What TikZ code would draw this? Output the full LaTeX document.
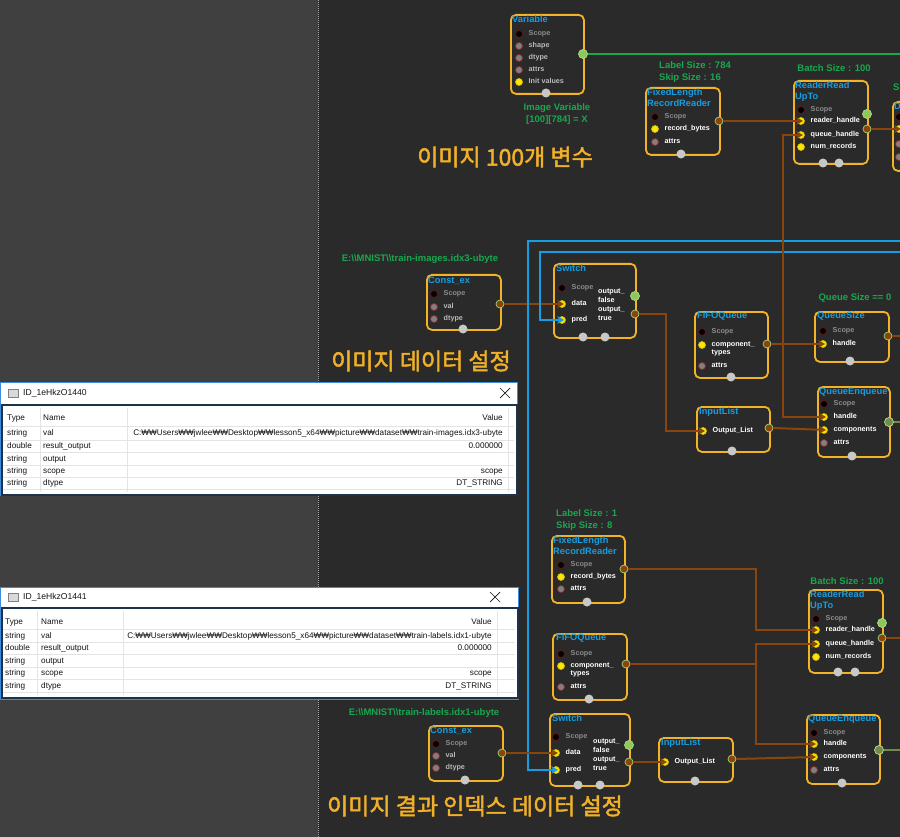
\documentclass[tikz,border=0pt]{standalone}
\usepackage{fontspec}
\setmainfont{Liberation Sans}
\newfontfamily\korfont{Noto Sans CJK KR}[AutoFakeBold=2]
\usetikzlibrary{arrows.meta}
\definecolor{panel}{RGB}{64,64,64}
\definecolor{canvas}{RGB}{42,42,42}
\definecolor{orng}{RGB}{242,180,38}
\definecolor{cyn}{RGB}{22,158,226}
\definecolor{grn}{RGB}{24,168,78}
\definecolor{brn}{RGB}{138,70,10}
\definecolor{olv}{RGB}{112,140,72}
\definecolor{ltgrn}{RGB}{140,200,90}
\definecolor{yel}{RGB}{255,230,0}
\definecolor{pgry}{RGB}{128,128,128}
\definecolor{dred}{RGB}{110,20,20}
\definecolor{mred}{RGB}{150,40,40}
\definecolor{botg}{RGB}{200,200,200}
\definecolor{scopet}{RGB}{140,140,140}
\definecolor{lgt}{RGB}{185,185,185}
\definecolor{kcol}{RGB}{240,176,40}
\definecolor{winb}{RGB}{60,140,220}
\definecolor{wind}{RGB}{30,50,75}
\definecolor{gridl}{RGB}{228,228,228}
\definecolor{wtx}{RGB}{20,20,20}
\tikzset{
  nodebox/.style={draw=orng, line width=1.8pt, rounded corners=5pt, fill=canvas, inner sep=0pt},
  ttl/.style={text=cyn, font=\bfseries\fontsize{9.3}{10}\selectfont, anchor=west, inner sep=0pt, text height=7pt, text depth=2pt},
  pl/.style={text=white, font=\bfseries\fontsize{7.2}{8}\selectfont, anchor=west, inner sep=0pt, text height=5.2pt, text depth=1.6pt},
  pls/.style={pl, text=scopet},
  plg/.style={pl, text=lgt},
  pdot/.style={circle, inner sep=0pt, minimum size=7pt, line width=0.7pt},
  dscope/.style={pdot, fill=black, draw=dred},
  dgray/.style={pdot, fill=pgry, draw=mred},
  dyel/.style={pdot, fill=yel, draw=yel!80!black},
  dout/.style={pdot, minimum size=8pt, fill=brn, draw=ltgrn!80!white},
  dgrn/.style={pdot, minimum size=9pt, fill=ltgrn, draw=ltgrn!70!white},
  dolv/.style={pdot, minimum size=9pt, fill=olv, draw=ltgrn!60!white},
  botc/.style={circle, inner sep=0pt, minimum size=9pt, fill=botg},
  glab/.style={text=grn, font=\bfseries\fontsize{9.5}{12}\selectfont, inner sep=0pt},
  conn/.style={draw=brn, line width=2pt},
  arr/.style={conn, -{Stealth[length=7pt,width=8pt,inset=2.5pt]}},
  blu/.style={draw=cyn, line width=2pt},
  barr/.style={blu, -{Stealth[length=7pt,width=8pt,inset=2.5pt]}},
  kt/.style={text=kcol, font=\korfont\bfseries\fontsize{23}{26}\selectfont, inner sep=0pt},
  wtxt/.style={text=wtx, font=\fontsize{8.2}{9}\selectfont, inner sep=0pt, text height=6pt, text depth=1.8pt},
  wl/.style={wtxt, anchor=west},
  wr/.style={wtxt, anchor=east},
}
\newcommand\nbox[5]{\node[nodebox, anchor=north west, minimum width={#4-#2}, minimum height={#5-#3}] (#1) at (#2,#3) {};}
\newcommand\prt[6]{\node[#1] (#3) at (#4,#5) {}; \node[#2] (#3l) at (#4+9.5,#5) {#6};}
\begin{document}
\begin{tikzpicture}[x=1pt,y=-1pt]
\useasboundingbox (0,0) rectangle (900,837);
\clip (0,0) rectangle (900,837);
% backgrounds
\fill[panel] (0,0) rectangle (318,837);
\fill[canvas] (318,0) rectangle (900,837);
\draw[gray!70, line width=0.8pt, dash pattern=on 1pt off 1pt] (318.5,0) -- (318.5,837);

% ---------------- windows
\node[draw=winb, fill=white, line width=1pt, minimum width=517pt, minimum height=113pt, anchor=north west, inner sep=0pt] (w1) at (0,382) {};
\node[draw=gray, fill=gray!30, minimum width=10pt, minimum height=8pt, inner sep=0pt] (w1i) at (13,393) {};
\node[wl, font=\fontsize{8.6}{9}\selectfont] (w1t) at (23,393) {ID\_1eHkzO1440};
\draw[wtx, line width=0.7pt] (500,388) -- (510,398) (500,398) -- (510,388);
\node[draw=wind, line width=2pt, fill=white, anchor=north west, minimum width=515pt, minimum height=90pt, inner sep=0pt] (w1c) at (1,404) {};
\foreach \xx in {40,127,508} \draw[gridl] (\xx,408) -- (\xx,492);
\foreach \yy in {426,440,452,465,477,489} \draw[gridl] (3,\yy) -- (514,\yy);
\node[wl] (w1h1) at (7,418) {Type};
\node[wl] (w1h2) at (43,418) {Name};
\node[wr] (w1h3) at (503,418) {Value};
\node[wl] (w1a1) at (7,433) {string};
\node[wl] (w1a2) at (43,433) {val};
\node[wr] (w1a3) at (503,433) {C:₩₩Users₩₩jwlee₩₩Desktop₩₩lesson5\_x64₩₩picture₩₩dataset₩₩train-images.idx3-ubyte};
\node[wl] (w1b1) at (7,446) {double};
\node[wl] (w1b2) at (43,446) {result\_output};
\node[wr] (w1b3) at (503,446) {0.000000};
\node[wl] (w1c1) at (7,459) {string};
\node[wl] (w1c2) at (43,459) {output};
\node[wl] (w1d1) at (7,471) {string};
\node[wl] (w1d2) at (43,471) {scope};
\node[wr] (w1d3) at (503,471) {scope};
\node[wl] (w1e1) at (7,483) {string};
\node[wl] (w1e2) at (43,483) {dtype};
\node[wr] (w1e3) at (503,483) {DT\_STRING};

\node[draw=winb, fill=white, line width=1pt, minimum width=518pt, minimum height=112pt, anchor=north west, inner sep=0pt] (w2) at (0,587) {};
\node[draw=gray, fill=gray!30, minimum width=10pt, minimum height=8pt, inner sep=0pt] (w2i) at (13,597) {};
\node[wl, font=\fontsize{8.6}{9}\selectfont] (w2t) at (23,597) {ID\_1eHkzO1441};
\draw[wtx, line width=0.7pt] (490,592) -- (500,602) (490,602) -- (500,592);
\node[draw=wind, line width=2pt, fill=white, anchor=north west, minimum width=516pt, minimum height=90pt, inner sep=0pt] (w2c) at (1,607) {};
\foreach \xx in {37,123,497} \draw[gridl] (\xx,611) -- (\xx,695);
\foreach \yy in {629,642,654,667,679,692} \draw[gridl] (3,\yy) -- (515,\yy);
\node[wl] (w2h1) at (5,622) {Type};
\node[wl] (w2h2) at (41,622) {Name};
\node[wr] (w2h3) at (492,622) {Value};
\node[wl] (w2a1) at (5,636) {string};
\node[wl] (w2a2) at (41,636) {val};
\node[wr] (w2a3) at (492,636) {C:₩₩Users₩₩jwlee₩₩Desktop₩₩lesson5\_x64₩₩picture₩₩dataset₩₩train-labels.idx1-ubyte};
\node[wl] (w2b1) at (5,648) {double};
\node[wl] (w2b2) at (41,648) {result\_output};
\node[wr] (w2b3) at (492,648) {0.000000};
\node[wl] (w2c1) at (5,661) {string};
\node[wl] (w2c2) at (41,661) {output};
\node[wl] (w2d1) at (5,673) {string};
\node[wl] (w2d2) at (41,673) {scope};
\node[wr] (w2d3) at (492,673) {scope};
\node[wl] (w2e1) at (5,686) {string};
\node[wl] (w2e2) at (41,686) {dtype};
\node[wr] (w2e3) at (492,686) {DT\_STRING};

% ---------------- Korean captions
\node[kt] (k1) at (505,157) {이미지 100개 변수};
\node[kt] (k2) at (421,361) {이미지 데이터 설정};
\node[kt] (k3) at (475,806) {이미지 결과 인덱스 데이터 설정};

% ---------------- green labels
\node[glab, align=center] (g1) at (557,114) {Image Variable\\{[100][784] = X}};
\node[glab, align=left, anchor=west] (g2) at (659,72) {Label Size : 784\\Skip Size : 16};
\node[glab] (g3) at (834,68) {Batch Size : 100};
\node[glab, anchor=west] (g4) at (893,87) {S};
\node[glab] (g5) at (420,259) {E:\textbackslash\textbackslash MNIST\textbackslash\textbackslash train-images.idx3-ubyte};
\node[glab] (g6) at (855,298) {Queue Size == 0};
\node[glab, align=left, anchor=west] (g7) at (556,520) {Label Size : 1\\Skip Size : 8};
\node[glab] (g8) at (847,581) {Batch Size : 100};
\node[glab] (g9) at (424,713) {E:\textbackslash\textbackslash MNIST\textbackslash\textbackslash train-labels.idx1-ubyte};

% ---------------- nodes
% Variable
\nbox{var}{510}{14}{583}{93}
\node[ttl] (var-h) at (512,20) {Variable};
\prt{dscope}{pls}{var-s}{519}{34}{Scope}
\prt{dgray}{plg}{var-sh}{519}{46}{shape}
\prt{dgray}{plg}{var-dt}{519}{58}{dtype}
\prt{dgray}{plg}{var-at}{519}{70}{attrs}
\prt{dyel}{plg}{var-iv}{519}{82}{Init values}
\node[dgrn] (var-o) at (583,54) {};
\node[botc] (var-b) at (546,93) {};

% FixedLengthRecordReader 1
\nbox{flr1}{645}{87}{719}{154}
\node[ttl] (flr1-h1) at (647,93) {FixedLength};
\node[ttl] (flr1-h2) at (647,104) {RecordReader};
\prt{dscope}{pls}{flr1-s}{655}{117}{Scope}
\prt{dyel}{pl}{flr1-rb}{655}{129}{record\_bytes}
\prt{dgray}{pl}{flr1-a}{655}{142}{attrs}
\node[dout] (flr1-o) at (719,121) {};
\node[botc] (flr1-b) at (681,154) {};

% ReaderReadUpTo 1
\nbox{rr1}{793}{80}{867}{163}
\node[ttl] (rr1-h1) at (795,86) {ReaderRead};
\node[ttl] (rr1-h2) at (795,97) {UpTo};
\prt{dscope}{pls}{rr1-s}{801}{110}{Scope}
\prt{dyel}{pl}{rr1-rh}{801}{121}{reader\_handle}
\prt{dyel}{pl}{rr1-qh}{801}{135}{queue\_handle}
\prt{dyel}{pl}{rr1-nr}{801}{147}{num\_records}
\node[dgrn] (rr1-o1) at (867,114) {};
\node[dout] (rr1-o2) at (867,129) {};
\node[botc] (rr1-b1) at (823,163) {};
\node[botc] (rr1-b2) at (839,163) {};

% partial node at right edge
\nbox{d1}{892}{101}{960}{170}
\node[ttl] (d1-h) at (894,107) {D};
\node[dscope] (d1-s) at (899,117) {};
\node[dyel] (d1-i) at (899,129) {};
\node[dgray] (d1-a) at (899,144) {};
\node[dgray] (d1-c) at (899,157) {};

% Const_ex 1
\nbox{cst1}{426}{274}{500}{329}
\node[ttl] (cst1-h) at (428,281) {Const\_ex};
\prt{dscope}{pls}{cst1-s}{434}{294}{Scope}
\prt{dgray}{plg}{cst1-v}{434}{307}{val}
\prt{dgray}{plg}{cst1-d}{434}{319}{dtype}
\node[dout] (cst1-o) at (500,304) {};
\node[botc] (cst1-b) at (463,329) {};

% Switch 1
\nbox{sw1}{553}{263}{635}{337}
\node[ttl] (sw1-h) at (556,269) {Switch};
\prt{dscope}{pls}{sw1-s}{562}{288}{Scope}
\prt{dyel}{pl}{sw1-d}{562}{304}{data}
\prt{dyel}{pl}{sw1-p}{562}{320}{pred}
\node[pl] (sw1-l1) at (598,292) {output\_};
\node[pl] (sw1-l2) at (598,301) {false};
\node[pl] (sw1-l3) at (598,310) {output\_};
\node[pl] (sw1-l4) at (598,319) {true};
\node[dgrn] (sw1-f) at (635,296) {};
\node[dout] (sw1-tr) at (635,314) {};
\node[botc] (sw1-b1) at (583,337) {};
\node[botc] (sw1-b2) at (605,337) {};

% FIFOQueue 1
\nbox{fq1}{694}{311}{767}{377}
\node[ttl] (fq1-h) at (697,316) {FIFOQueue};
\prt{dscope}{pls}{fq1-s}{702}{332}{Scope}
\prt{dyel}{pl}{fq1-c}{702}{345}{component\_}
\node[pl] (fq1-c2) at (711.5,353) {types};
\prt{dgray}{pl}{fq1-a}{702}{366}{attrs}
\node[dout] (fq1-o) at (767,344) {};
\node[botc] (fq1-b) at (731,377) {};

% QueueSize
\nbox{qs1}{814}{311}{888}{361}
\node[ttl] (qs1-h) at (817,316) {QueueSize};
\prt{dscope}{pls}{qs1-s}{823}{331}{Scope}
\prt{dyel}{pl}{qs1-h}{823}{344}{handle}
\node[dout] (qs1-o) at (888,336) {};
\node[botc] (qs1-b) at (850,361) {};

% InputList 1
\nbox{il1}{696}{406}{769}{451}
\node[ttl] (il1-h) at (699,412) {InputList};
\prt{dyel}{pl}{il1-i}{703}{431}{Output\_List}
\node[dout] (il1-o) at (769,428) {};
\node[botc] (il1-b) at (732,451) {};

% QueueEnqueue 1
\nbox{qe1}{817}{386}{889}{456}
\node[ttl] (qe1-hd) at (819,392) {QueueEnqueue};
\prt{dscope}{pls}{qe1-s}{824}{404}{Scope}
\prt{dyel}{pl}{qe1-h}{824}{417}{handle}
\prt{dyel}{pl}{qe1-c}{824}{430}{components}
\prt{dgray}{pl}{qe1-a}{824}{443}{attrs}
\node[dolv] (qe1-o) at (889,422) {};
\node[botc] (qe1-b) at (852,456) {};

% FixedLengthRecordReader 2
\nbox{flr2}{551}{535}{624}{602}
\node[ttl] (flr2-h1) at (553,541) {FixedLength};
\node[ttl] (flr2-h2) at (553,552) {RecordReader};
\prt{dscope}{pls}{flr2-s}{561}{565}{Scope}
\prt{dyel}{pl}{flr2-rb}{561}{577}{record\_bytes}
\prt{dgray}{pl}{flr2-a}{561}{589}{attrs}
\node[dout] (flr2-o) at (624,569) {};
\node[botc] (flr2-b) at (587,602) {};

% FIFOQueue 2
\nbox{fq2}{552}{633}{626}{699}
\node[ttl] (fq2-h) at (556,638) {FIFOQueue};
\prt{dscope}{pls}{fq2-s}{561}{654}{Scope}
\prt{dyel}{pl}{fq2-c}{561}{666}{component\_}
\node[pl] (fq2-c2) at (570.5,674) {types};
\prt{dgray}{pl}{fq2-a}{561}{687}{attrs}
\node[dout] (fq2-o) at (626,664) {};
\node[botc] (fq2-b) at (589,699) {};

% ReaderReadUpTo 2
\nbox{rr2}{808}{589}{882}{672}
\node[ttl] (rr2-h1) at (810,595) {ReaderRead};
\node[ttl] (rr2-h2) at (810,606) {UpTo};
\prt{dscope}{pls}{rr2-s}{816}{619}{Scope}
\prt{dyel}{pl}{rr2-rh}{816}{630}{reader\_handle}
\prt{dyel}{pl}{rr2-qh}{816}{644}{queue\_handle}
\prt{dyel}{pl}{rr2-nr}{816}{657}{num\_records}
\node[dgrn] (rr2-o1) at (882,623) {};
\node[dout] (rr2-o2) at (882,638) {};
\node[botc] (rr2-b1) at (838,672) {};
\node[botc] (rr2-b2) at (855,672) {};

% Const_ex 2
\nbox{cst2}{428}{725}{502}{780}
\node[ttl] (cst2-h) at (430,731) {Const\_ex};
\prt{dscope}{pls}{cst2-s}{436}{744}{Scope}
\prt{dgray}{plg}{cst2-v}{436}{756}{val}
\prt{dgray}{plg}{cst2-d}{436}{768}{dtype}
\node[dout] (cst2-o) at (502,753) {};
\node[botc] (cst2-b) at (465,780) {};

% Switch 2
\nbox{sw2}{549}{713}{629}{785}
\node[ttl] (sw2-h) at (552,719) {Switch};
\prt{dscope}{pls}{sw2-s}{556}{737}{Scope}
\prt{dyel}{pl}{sw2-d}{556}{753}{data}
\prt{dyel}{pl}{sw2-p}{556}{770}{pred}
\node[pl] (sw2-l1) at (593,742) {output\_};
\node[pl] (sw2-l2) at (593,751) {false};
\node[pl] (sw2-l3) at (593,760) {output\_};
\node[pl] (sw2-l4) at (593,769) {true};
\node[dgrn] (sw2-f) at (629,745) {};
\node[dout] (sw2-tr) at (629,762) {};
\node[botc] (sw2-b1) at (578,785) {};
\node[botc] (sw2-b2) at (600,785) {};

% InputList 2
\nbox{il2}{658}{737}{732}{781}
\node[ttl] (il2-h) at (661,743) {InputList};
\prt{dyel}{pl}{il2-i}{665}{762}{Output\_List}
\node[dout] (il2-o) at (732,759) {};
\node[botc] (il2-b) at (695,781) {};

% QueueEnqueue 2
\nbox{qe2}{806}{714}{879}{783}
\node[ttl] (qe2-hd) at (808,719) {QueueEnqueue};
\prt{dscope}{pls}{qe2-s}{814}{733}{Scope}
\prt{dyel}{pl}{qe2-h}{814}{744}{handle}
\prt{dyel}{pl}{qe2-c}{814}{757}{components}
\prt{dgray}{pl}{qe2-a}{814}{770}{attrs}
\node[dolv] (qe2-o) at (879,750) {};
\node[botc] (qe2-b) at (842,783) {};

% ---------------- helper coordinates
\coordinate (eVar) at (905,54);
\coordinate (eB1) at (905,241);
\coordinate (eB2) at (905,252);
\coordinate (eQS) at (905,336);
\coordinate (eQE1) at (905,422);
\coordinate (eRR2) at (905,638);
\coordinate (eQE2) at (905,750);
\coordinate (bB1) at (528,500);
\coordinate (bB2) at (540,300);
\coordinate (bS1) at (666,380);
\coordinate (j1) at (783,344);
\coordinate (bF2) at (756,600);
\coordinate (j2) at (756,664);

% ---------------- connectors
\draw[draw=grn, line width=2.5pt] (var-o.east) -- (eVar);
\draw[arr] (flr1-o.east) -- ([xshift=2pt]rr1-rh.center);
\draw[arr] (rr1-o2.east) -- ([xshift=2pt]d1-i.center);
\draw[arr] (cst1-o.east) -- ([xshift=2pt]sw1-d.center);
\draw[barr] (eB2) -| (bB2) |- ([xshift=2pt]sw1-p.center);
\draw[barr] (eB1) -| (bB1) |- ([xshift=2pt]sw2-p.center);
\draw[arr] (sw1-tr.east) -| (bS1) |- ([xshift=2pt]il1-i.center);
\draw[arr] (fq1-o.east) -- ([xshift=2pt]qs1-h.center);
\draw[arr] (j1) |- ([xshift=2pt]rr1-qh.center);
\draw[arr] (j1) |- ([xshift=2pt]qe1-h.center);
\draw[arr] (il1-o.east) -- ([xshift=2pt]qe1-c.center);
\draw[conn] (qs1-o.east) -- (eQS);
\draw[draw=olv, line width=2pt] (qe1-o.east) -- (eQE1);
\draw[arr] (flr2-o.east) -| (bF2) |- ([xshift=2pt]rr2-rh.center);
\draw[conn] (fq2-o.east) -- (j2);
\draw[arr] (j2) |- ([xshift=2pt]rr2-qh.center);
\draw[arr] (j2) |- ([xshift=2pt]qe2-h.center);
\draw[arr] (cst2-o.east) -- ([xshift=2pt]sw2-d.center);
\draw[arr] (sw2-tr.east) -- ([xshift=2pt]il2-i.center);
\draw[arr] (il2-o.east) -- ([xshift=2pt]qe2-c.center);
\draw[conn] (rr2-o2.east) -- (eRR2);
\draw[draw=olv, line width=2pt] (qe2-o.east) -- (eQE2);
\end{tikzpicture}
\end{document}
